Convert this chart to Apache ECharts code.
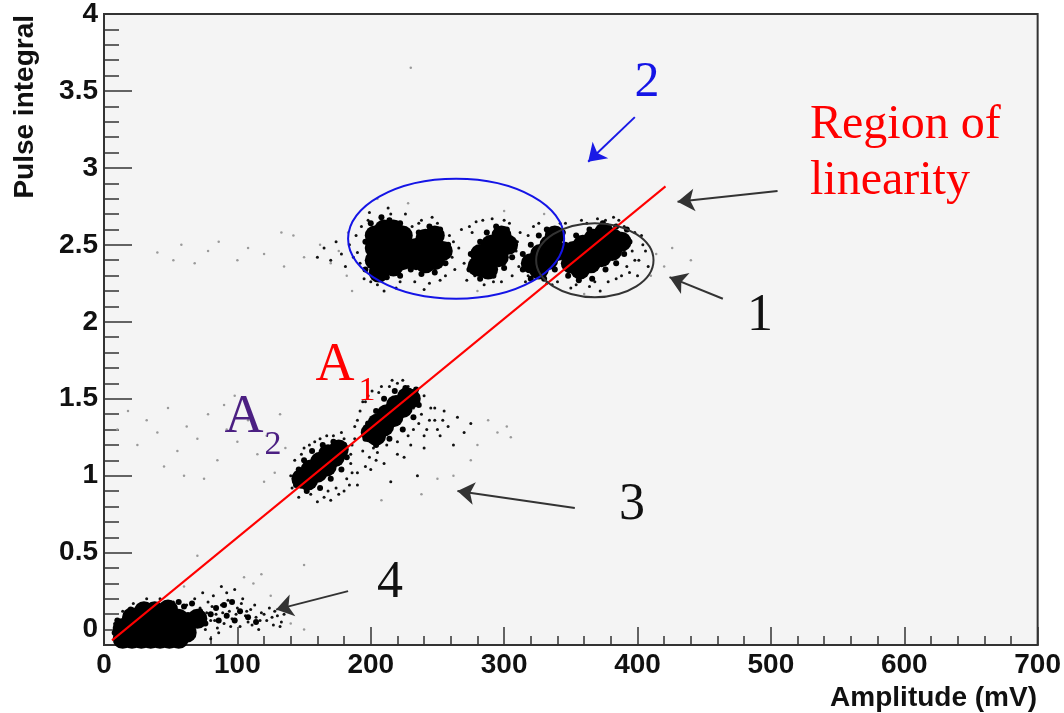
<!DOCTYPE html>
<html lang="en">
<head>
  <meta charset="UTF-8">
  <title>Pulse integral vs amplitude</title>
  <script src="https://cdn.jsdelivr.net/npm/echarts@6/dist/echarts.min.js"></script>
  <style>
    html, body { margin: 0; padding: 0; background: #fff; }
    #main { width: 1064px; height: 713px; }
  </style>
</head>
<body>
<div id="main"></div>
<script>
  // tick labels
  let yMajorTicks = [0, 0.5, 1, 1.5, 2, 2.5, 3, 3.5, 4];
  let yMinorTicks = [0.1, 0.2, 0.3, 0.4, 0.6, 0.7, 0.8, 0.9, 1.1, 1.2, 1.3, 1.4, 1.6, 1.7, 1.8, 1.9,
    2.1, 2.2, 2.3, 2.4, 2.6, 2.7, 2.8, 2.9, 3.1, 3.2, 3.3, 3.4, 3.6, 3.7, 3.8, 3.9];

  // dense cores of the clusters [amplitude, integral]
  let coreBlob = [
    // upper band, 5 peaks
    [203,2.40],[203,2.48],[203,2.56],[210,2.36],[210,2.44],[210,2.52],[210,2.60],[217,2.36],[217,2.44],
    [217,2.52],[217,2.60],[224,2.40],[224,2.48],[224,2.56],[206,2.32],
    [234,2.40],[234,2.48],[241,2.38],[241,2.46],[241,2.54],[248,2.40],[248,2.48],[248,2.56],[254,2.46],
    [280,2.36],[282,2.44],[288,2.34],[289,2.42],[290,2.50],[296,2.42],[297,2.50],[298,2.56],[303,2.50],
    [320,2.38],[326,2.34],[327,2.44],[333,2.40],[334,2.50],[340,2.46],[338,2.56],
    [350,2.38],[352,2.46],[357,2.34],[358,2.42],[359,2.50],[365,2.38],[366,2.46],[367,2.54],[373,2.42],
    [374,2.50],[375,2.58],[381,2.46],[382,2.54],[388,2.52],
    // A2 and A1
    [148,0.98],[153,0.97],[155,1.04],[160,1.02],[162,1.09],[167,1.06],[168,1.14],[173,1.12],[176,1.17],
    [200,1.28],[204,1.26],[205,1.34],[210,1.32],[212,1.40],[217,1.38],[219,1.46],[224,1.44],[227,1.51],[230,1.50],
    // pedestal
    [14,-0.06],[21,-0.06],[28,-0.06],[35,-0.06],[42,-0.06],[49,-0.06],[56,-0.06],
    [14,0.01],[21,0.01],[28,0.01],[35,0.01],[42,0.01],[49,0.01],[56,0.01],
    [21,0.08],[28,0.08],[35,0.08],[42,0.08],[49,0.08],[56,0.07],
    [63,0.05],[70,0.07],[62,-0.02],[38,0.12],[48,0.13],[30,0.12]
  ];

  let fringe = [
    [196,2.34],[196,2.52],[200,2.64],[208,2.68],[214,2.66],[222,2.64],[228,2.52],[228,2.40],[222,2.30],[212,2.29],[202,2.30],
    [230,2.34],[229,2.52],[236,2.58],[244,2.62],[252,2.60],[258,2.50],[256,2.38],[248,2.32],[238,2.31],
    [274,2.34],[275,2.44],[282,2.52],[287,2.58],[294,2.62],[302,2.60],[307,2.52],[306,2.42],[300,2.35],[292,2.30],[282,2.28],
    [314,2.34],[314,2.44],[320,2.50],[326,2.56],[332,2.60],[344,2.58],[346,2.42],[338,2.34],[330,2.28],[320,2.28],
    [348,2.30],[356,2.27],[366,2.28],[376,2.34],[384,2.38],[390,2.44],[394,2.52],[392,2.60],[384,2.62],[374,2.64],[364,2.60],[354,2.56],[346,2.50],
    [144,0.94],[146,1.04],[150,1.10],[156,1.16],[164,1.20],[172,1.22],[180,1.20],[182,1.12],[178,1.04],[170,0.98],[162,0.92],[152,0.90],
    [196,1.24],[198,1.34],[204,1.42],[210,1.50],[218,1.55],[226,1.57],[234,1.56],[236,1.46],[232,1.38],[224,1.30],[214,1.24],[204,1.20],
    [72,0.12],[76,0.04],[80,0.10],[84,0.14],[86,0.06],[90,0.16],[92,0.09],[96,0.18],[98,0.06],[60,0.15],
    [66,0.17],[56,0.18],[20,0.13],[10,0.06],[8,-0.02],[102,0.12],[108,0.08],[114,0.05]
  ];

  let haloDots = [
    [160,2.42],[165,2.48],[170,2.40],[174,2.52],[178,2.44],[181,2.36],[184,2.50],[187,2.42],
    [190,2.45],[192,2.38],[189,2.56],[193,2.62],[195,2.28],[199,2.71],[205,2.24],[213,2.74],[219,2.22],[226,2.70],
    [231,2.62],[233,2.26],[238,2.66],[246,2.68],[252,2.27],[259,2.56],[261,2.42],[263,2.34],[266,2.48],[268,2.60],
    [270,2.38],[272,2.27],[276,2.58],[279,2.65],[285,2.24],[291,2.67],[298,2.26],[304,2.64],[309,2.46],[311,2.36],
    [312,2.58],[316,2.26],[322,2.62],[336,2.24],[342,2.64],[350,2.22],[358,2.66],[364,2.23],[370,2.67],[378,2.26],
    [382,2.68],[388,2.30],[392,2.36],[396,2.46],[398,2.58],[401,2.40],[404,2.50],[386,2.66],[372,2.20],[240,2.21],
    [210,2.20],[198,2.66],
    [200,2.26],[215,2.70],[222,2.26],[229,2.44],[236,2.64],[244,2.25],[250,2.64],[256,2.30],[262,2.52],[274,2.62],
    [278,2.30],[284,2.66],[292,2.26],[300,2.66],[306,2.30],[310,2.52],[318,2.30],[318,2.56],[326,2.64],[332,2.25],
    [340,2.26],[346,2.64],[354,2.24],[362,2.64],[368,2.26],[376,2.66],[384,2.28],[390,2.62],[394,2.32],[398,2.40],
    [403,2.56],[406,2.46],[408,2.36],[400,2.30],
    [140,1.00],[141,0.92],[143,1.10],[146,0.86],[150,1.18],[155,0.88],[158,1.22],[165,0.86],[167,1.26],[174,0.92],
    [178,1.28],[182,0.98],[185,1.08],[186,1.20],[188,1.32],[190,1.02],[192,1.42],[194,1.16],[196,1.48],[199,1.12],
    [201,1.55],[205,1.15],[208,1.58],[212,1.20],[216,1.62],[220,1.22],[224,1.62],[228,1.26],[232,1.30],[238,1.40],
    [240,1.52],[242,1.30],[245,1.44],[248,1.36],[252,1.26],[255,1.42],[258,1.32],[262,1.20],[265,1.38],[270,1.28],
    [275,1.34],[180,0.90],[190,0.94],[200,1.04],[170,0.84],[210,1.08],[225,1.12],[240,1.18],[160,0.83],[235,1.00],[215,0.96],
    [185,1.14],[188,1.24],[190,1.36],[194,1.48],[198,1.52],[204,1.10],[206,1.54],[214,1.58],[220,1.60],[228,1.58],
    [232,1.44],[236,1.34],[240,1.26],[244,1.36],[248,1.44],[250,1.30],[254,1.36],[230,1.20],[220,1.14],[184,0.94],
    [176,0.88],[168,0.90],[150,0.92],[144,0.98],[148,1.14],[154,1.20],[162,1.24],[172,1.26],[180,1.24],[186,1.02],
    [196,1.06],[202,1.18],[208,1.24],
    [8,0.04],[10,-0.04],[14,0.12],[22,0.17],[32,0.20],[42,0.20],[52,0.18],[62,0.16],[66,-0.04],[72,0.14],
    [76,0.00],[78,0.18],[80,0.06],[82,0.22],[84,0.10],[86,-0.02],[88,0.16],[90,0.04],[92,0.24],[94,0.12],
    [96,0.07],[98,0.26],[100,0.14],[102,0.02],[104,0.20],[106,0.09],[108,0.05],[110,0.13],[114,0.08],[116,0.00],
    [118,0.11],[122,0.06],[124,0.14],[127,0.03],[130,0.09],[133,0.05],[74,0.24],[88,0.28],[70,0.08],[58,-0.08],[80,-0.06],
    [68,0.20],[73,0.03],[77,0.11],[81,0.15],[85,0.01],[89,0.11],[93,0.19],[95,0.02],[99,0.10],[103,0.17],
    [107,0.12],[111,0.03],[113,0.16],[117,0.06],[120,0.10],[126,0.08],[128,0.12],[132,0.02],[135,0.10],[83,0.06]
  ];

  let sparseDots = [
    [40,2.45],[52,2.40],[58,2.50],[68,2.38],[78,2.46],[86,2.52],[100,2.40],[108,2.48],[120,2.44],[135,2.36],
    [142,2.56],[150,2.42],[162,2.50],[170,2.38],[176,2.46],[182,2.30],[183,2.58],[186,2.20],[205,2.80],[228,2.77],
    [300,2.72],[330,2.70],[410,2.30],[414,2.44],[420,2.36],[426,2.48],[432,2.28],[440,2.40],[360,2.18],[280,2.20],
    [230,3.65],[133,2.58],
    [10,1.30],[18,1.42],[25,1.20],[32,1.36],[40,1.28],[48,1.44],[55,1.16],[62,1.32],[70,1.24],[78,1.40],
    [85,1.10],[92,1.30],[100,1.22],[108,1.36],[115,1.14],[122,1.26],[128,1.02],[132,1.40],[136,1.18],[280,1.20],
    [288,1.36],[295,1.28],[302,1.32],[305,1.25],[262,1.00],[275,1.10],[250,0.98],[208,0.84],[238,0.88],[120,0.96],
    [90,1.46],[60,1.00],[45,1.06],[98,1.52],[75,0.98],
    [70,0.48],[105,0.34],[112,0.30],[118,0.36],[60,0.28],[125,0.22],[138,0.12],[140,0.04],[150,0.42],[150,0.00]
  ];

  // region of linearity
  let fitLine = [[6,-0.07],[421,2.88]];

  // annotation arrows: [from, to]
  let blackArrows = [
    [[505,2.85],[430,2.78]],
    [[464,2.15],[424,2.29]],
    [[353,0.79],[265,0.90]],
    [[183,0.25],[129,0.13]]
  ];
  let blueArrow = [[[398,3.33],[363,3.04]]];

  // circled groups: [cx, cy, rx, ry]
  let blueEllipse = [264,2.54,81,0.39];
  let blackEllipse = [368,2.40,44,0.24];

  let myChart = echarts.init(document.getElementById('main'));

  function arrowLines(list, color) {
    return {
      silent: true,
      symbol: ['none', 'arrow'],
      symbolSize: 17,
      label: { show: false },
      lineStyle: { color: color, width: 2, type: 'solid' },
      data: list.map(a => [{ coord: a[0] }, { coord: a[1] }])
    };
  }

  let tickFont = { fontFamily: 'Liberation Sans', fontWeight: 'bold', fontSize: 28, color: '#111' };

  let option = {
    backgroundColor: '#fff',
    animation: false,
    grid: {
      left: 104, right: 26, top: 14, bottom: 68,
      show: true, backgroundColor: '#f4f4f4', borderColor: '#333', borderWidth: 2
    },
    xAxis: {
      type: 'value', min: 0, max: 700, interval: 100,
      axisLine: { onZero: false, lineStyle: { color: '#333', width: 2 } },
      axisTick: { inside: true, length: 18, lineStyle: { color: '#333', width: 1.5 } },
      minorTick: { show: true, splitNumber: 5, length: 9, lineStyle: { color: '#333', width: 1.5 } },
      splitLine: { show: false },
      axisLabel: Object.assign({ margin: 6 }, tickFont)
    },
    yAxis: [
      {
        type: 'value', min: -0.1, max: 4,
        axisLine: { show: true, onZero: false, lineStyle: { color: '#333', width: 2 } },
        axisTick: { show: true, inside: true, length: 28, customValues: yMajorTicks, lineStyle: { color: '#333', width: 1.5 } },
        splitLine: { show: false },
        axisLabel: Object.assign({ margin: 6, customValues: yMajorTicks }, tickFont)
      },
      {
        type: 'value', min: -0.1, max: 4, position: 'left',
        axisLine: { show: false },
        axisTick: { show: true, inside: true, length: 15, customValues: yMinorTicks, lineStyle: { color: '#333', width: 1.5 } },
        splitLine: { show: false },
        axisLabel: { show: false }
      }
    ],
    series: [
      {
        name: 'sparse', type: 'scatter', symbolSize: 2.5, data: sparseDots,
        itemStyle: { color: '#9a9a9a', opacity: 1 }, silent: true
      },
      {
        name: 'halo', type: 'scatter', symbolSize: 3, data: haloDots,
        itemStyle: { color: '#111', opacity: 1 }, silent: true
      },
      {
        name: 'fringe', type: 'scatter', symbolSize: 6, data: fringe,
        itemStyle: { color: '#000', opacity: 1 }, silent: true
      },
      {
        name: 'core', type: 'scatter', symbolSize: 20, data: coreBlob,
        itemStyle: { color: '#000', opacity: 1 }, silent: true
      },
      {
        name: 'linearity', type: 'line', data: fitLine, symbol: 'none', z: 5,
        lineStyle: { color: '#ff0000', width: 2 }, silent: true,
        markLine: arrowLines(blackArrows, '#333')
      },
      {
        name: 'arrow2', type: 'line', data: [], symbol: 'none', z: 5,
        markLine: arrowLines(blueArrow, '#1a1ae6')
      }
    ]
  };
  myChart.setOption(option, true);

  function toPx(p) {
    return myChart.convertToPixel({ xAxisIndex: 0, yAxisIndex: 0 }, p);
  }
  function ellipseEl(e, color) {
    let c = toPx([e[0], e[1]]);
    let r = toPx([e[0] + e[2], e[1] + e[3]]);
    return {
      type: 'ellipse', z: 50, silent: true,
      shape: { cx: c[0], cy: c[1], rx: r[0] - c[0], ry: c[1] - r[1] },
      style: { fill: 'none', stroke: color, lineWidth: 2 }
    };
  }
  function textEl(str, x, y, size, color, align) {
    return {
      type: 'text', x: x, y: y, z: 60, silent: true,
      style: {
        text: str, fill: color, fontFamily: 'Liberation Serif', fontSize: size,
        align: align || 'center', verticalAlign: 'middle'
      }
    };
  }

  myChart.setOption({
    graphic: [
      ellipseEl(blueEllipse, '#1414e6'),
      ellipseEl(blackEllipse, '#333'),
      textEl('2', 647, 83, 50, '#1414e6'),
      textEl('Region of', 810, 125, 48, '#ff0000', 'left'),
      textEl('linearity', 810, 181, 48, '#ff0000', 'left'),
      textEl('1', 760, 316, 52, '#111'),
      textEl('3', 632, 505, 52, '#111'),
      textEl('4', 390, 583, 52, '#111'),
      textEl('A', 335, 366, 54, '#ff0000'),
      textEl('1', 367, 391, 34, '#ff0000'),
      textEl('A', 244, 418, 54, '#4b1f82'),
      textEl('2', 273, 445, 34, '#4b1f82'),
      {
        type: 'text', x: 25, y: 15, rotation: Math.PI / 2, z: 60, silent: true,
        style: {
          text: 'Pulse integral', fill: '#111', fontFamily: 'Liberation Sans', fontWeight: 'bold',
          fontSize: 28, align: 'right', verticalAlign: 'middle'
        }
      },
      {
        type: 'text', x: 1037, y: 698, z: 60, silent: true,
        style: {
          text: 'Amplitude (mV)', fill: '#111', fontFamily: 'Liberation Sans', fontWeight: 'bold',
          fontSize: 28, align: 'right', verticalAlign: 'middle'
        }
      }
    ]
  });

  window.addEventListener("resize", function () {
    myChart.resize();
  });
</script>
</html>
